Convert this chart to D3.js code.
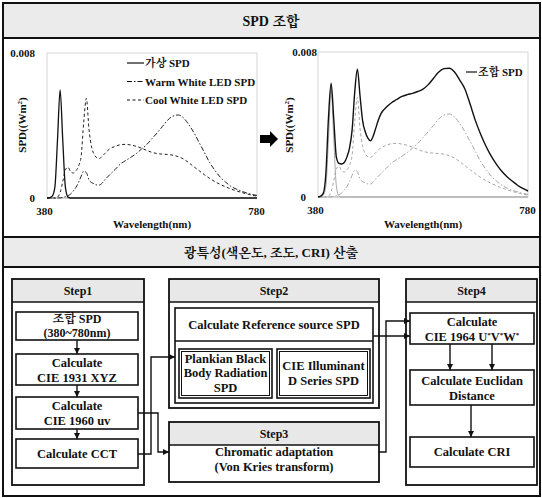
<!DOCTYPE html>
<html>
<head>
<meta charset="utf-8">
<script src="https://cdn.jsdelivr.net/npm/d3@7"></script>
<style>
  body { margin: 0; background: #fff; }
  svg text { font-weight: bold; fill: #111; }
</style>
</head>
<body>
<div id="chart"></div>
<script>
// wavelength samples (nm)
const wavelengths = [380, 385, 390, 395, 400, 405, 410, 415, 420, 425, 430, 435, 440, 445, 450, 455, 460, 465, 470, 475, 480, 485, 490, 495, 500,
    510, 520, 530, 540, 550, 560, 570, 580, 590, 600, 610, 620, 630, 640, 650, 660, 670, 680, 690, 700, 710, 720, 730, 740, 750, 760, 770, 780];

// SPD values in units of 0.001 W/m2
const virtualSpd = [0, 0.02, 0.1, 0.6, 3.2, 5.97, 3.2, 0.6, 0.05, 0, 0, 0, 0, 0, 0, 0, 0, 0, 0, 0, 0, 0, 0, 0, 0,
    0, 0, 0, 0, 0, 0, 0, 0, 0, 0, 0, 0, 0, 0, 0, 0, 0, 0, 0, 0, 0, 0, 0, 0, 0, 0, 0, 0];
const warmWhite = [0, 0, 0, 0, 0, 0.01, 0.03, 0.07, 0.13, 0.22, 0.38, 0.58, 0.85, 1.2, 1.48, 1.4, 1.0, 0.85, 0.78, 0.72, 0.72, 0.82, 1.0, 1.15, 1.3,
    1.58, 1.88, 2.07, 2.25, 2.45, 2.7, 2.95, 3.28, 3.6, 3.95, 4.3, 4.52, 4.58, 4.42, 4.05, 3.6, 3.05, 2.5, 1.95, 1.52, 1.15, 0.88, 0.65, 0.5, 0.38, 0.28, 0.2, 0.14];
const coolWhite = [0, 0, 0, 0, 0.05, 0.3, 0.9, 1.55, 1.7, 1.45, 1.38, 1.5, 1.75, 2.3, 4.2, 5.5, 3.8, 2.8, 2.4, 2.22, 2.18, 2.3, 2.45, 2.6, 2.72,
    2.85, 2.94, 2.96, 2.92, 2.85, 2.75, 2.62, 2.52, 2.45, 2.42, 2.4, 2.36, 2.28, 2.15, 1.95, 1.72, 1.5, 1.28, 1.08, 0.9, 0.75, 0.62, 0.5, 0.4, 0.31, 0.23, 0.16, 0.1];
const combinedSpd = [0, 0.05, 0.2, 1.3, 4.4, 6.28, 4.3, 2.2, 1.85, 1.82, 1.9, 2.2, 2.7, 3.7, 5.8, 7.05, 5.6, 4.2, 3.6, 3.25, 3.1, 3.35, 3.8, 4.25, 4.6,
    4.95, 5.2, 5.38, 5.55, 5.65, 5.72, 5.82, 5.95, 6.2, 6.55, 6.9, 7.08, 7.1, 6.9, 6.45, 5.95, 5.1, 4.2, 3.45, 2.8, 2.25, 1.8, 1.42, 1.12, 0.88, 0.65, 0.47, 0.33];

const xTicks = [380, 780];
const yTicks = [0, 8];
const yTickLabels = ["0", "0.008"];
const legendLeft = ["가상 SPD", "Warm White LED SPD", "Cool White LED SPD"];
const legendRight = ["조합 SPD"];

const W = 542, H = 498;
const FONT = "'Liberation Serif', 'DejaVu Serif', 'Noto Serif CJK KR', serif";
const svg = d3.select("#chart").append("svg").attr("width", W).attr("height", H)
    .style("font-family", FONT);

// defs: arrow marker
svg.append("defs").append("marker")
    .attr("id", "arr")
    .attr("viewBox", "0 -5 10 10")
    .attr("refX", 10).attr("refY", 0)
    .attr("markerWidth", 6).attr("markerHeight", 6)
    .attr("markerUnits", "userSpaceOnUse")
    .attr("orient", "auto")
    .append("path").attr("d", "M0,-5L10,0L0,5Z").attr("fill", "#111");

// frames and headers
svg.append("rect").attr("x", 3).attr("y", 3).attr("width", 537).attr("height", 493)
    .attr("fill", "#fff").attr("stroke", "#111").attr("stroke-width", 2);
svg.append("rect").attr("x", 3).attr("y", 3).attr("width", 537).attr("height", 35)
    .attr("fill", "#ebebeb").attr("stroke", "#111").attr("stroke-width", 2);
svg.append("rect").attr("x", 3).attr("y", 237).attr("width", 537).attr("height", 30)
    .attr("fill", "#ebebeb").attr("stroke", "#111").attr("stroke-width", 2);
svg.append("text").attr("x", 271).attr("y", 26).attr("text-anchor", "middle")
    .style("font-size", "14px").text("SPD 조합");
svg.append("text").attr("x", 271).attr("y", 257).attr("text-anchor", "middle")
    .style("font-size", "13px").text("광특성(색온도, 조도, CRI) 산출");

// ---------- charts ----------
function drawChart(cfg) {
    const x = d3.scaleLinear().domain([380, 780]).range([cfg.left, cfg.right]);
    const y = d3.scaleLinear().domain([0, 8]).range([cfg.bottom, cfg.top]);
    const g = svg.append("g");

    g.append("rect")
        .attr("x", cfg.left).attr("y", cfg.top)
        .attr("width", cfg.right - cfg.left).attr("height", cfg.bottom - cfg.top)
        .attr("fill", "none").attr("stroke", "#d6d6d6").attr("stroke-width", 1);
    g.append("line")
        .attr("x1", cfg.left).attr("x2", cfg.right).attr("y1", cfg.bottom).attr("y2", cfg.bottom)
        .attr("stroke", "#bdbdbd");

    const yAxis = g.append("g")
        .attr("transform", `translate(${cfg.left},0)`)
        .call(d3.axisLeft(y).tickValues(yTicks).tickSize(0).tickPadding(cfg.yPad)
            .tickFormat((d, i) => yTickLabels[i]));
    yAxis.attr("font-family", null);
    yAxis.select(".domain").remove();
    yAxis.selectAll("text")
        .style("font-size", "11px")
        .attr("dx", d => d === 0 ? cfg.zeroDx : 0);

    const xAxis = g.append("g")
        .attr("transform", `translate(0,${cfg.bottom})`)
        .call(d3.axisBottom(x).tickValues(xTicks).tickSize(0).tickPadding(9));
    xAxis.attr("font-family", null);
    xAxis.select(".domain").remove();
    xAxis.selectAll("text").style("font-size", "11px")
        .attr("dx", d => d === 380 ? -3 : -1);

    g.append("text")
        .attr("x", (cfg.left + cfg.right) / 2).attr("y", 228)
        .attr("text-anchor", "middle").style("font-size", "11px")
        .text("Wavelength(nm)");

    const yl = g.append("text")
        .attr("transform", `translate(${cfg.yLabelX},125) rotate(-90)`)
        .attr("text-anchor", "middle").style("font-size", "11px");
    yl.append("tspan").text("SPD((Wm");
    yl.append("tspan").attr("baseline-shift", "super").style("font-size", "7px").text("2");
    yl.append("tspan").text(")");

    const line = d3.line()
        .x(d => x(d[0]))
        .y(d => y(d[1]))
        .curve(d3.curveMonotoneX);

    cfg.series.forEach(s => {
        g.append("path")
            .datum(d3.zip(wavelengths, s.values))
            .attr("d", line)
            .attr("fill", "none")
            .attr("stroke", s.color)
            .attr("stroke-width", s.width)
            .attr("stroke-dasharray", s.dash);
    });

    cfg.legend.forEach((l, i) => {
        const ly = cfg.legendY + i * 18.5;
        g.append("line")
            .attr("x1", cfg.legendX).attr("x2", cfg.legendX + cfg.legendLen)
            .attr("y1", ly).attr("y2", ly)
            .attr("stroke", "#111").attr("stroke-width", 1.2)
            .attr("stroke-dasharray", l.dash);
        g.append("text")
            .attr("x", cfg.legendX + cfg.legendLen + 1).attr("y", ly + 4)
            .style("font-size", "11px").text(l.label);
    });
}

const dashWarm = "5,2,1.5,2";
const dashCool = "3,2.5";

drawChart({
    left: 47, right: 257, top: 53, bottom: 198,
    yPad: 12, zeroDx: 0, yLabelX: 26,
    legendX: 127, legendY: 63, legendLen: 17,
    series: [
        { values: warmWhite, color: "#222", width: 1, dash: dashWarm },
        { values: coolWhite, color: "#222", width: 1, dash: dashCool },
        { values: virtualSpd, color: "#111", width: 1.3, dash: null }
    ],
    legend: [
        { label: legendLeft[0], dash: null },
        { label: legendLeft[1], dash: dashWarm },
        { label: legendLeft[2], dash: dashCool }
    ]
});

drawChart({
    left: 318, right: 528, top: 52, bottom: 197,
    yPad: 1, zeroDx: -11, yLabelX: 293,
    legendX: 466, legendY: 72, legendLen: 11,
    series: [
        { values: warmWhite, color: "#a6a6a6", width: 1, dash: dashWarm },
        { values: coolWhite, color: "#a6a6a6", width: 1, dash: dashCool },
        { values: virtualSpd, color: "#a6a6a6", width: 1, dash: null },
        { values: combinedSpd, color: "#111", width: 1.4, dash: null }
    ],
    legend: [
        { label: legendRight[0], dash: null }
    ]
});

// block arrow between charts
svg.append("path")
    .attr("d", "M260,135 H270 V131 L278,139 L270,147 V143 H260 Z")
    .attr("fill", "#000");

// ---------- flow diagram ----------
function box(x, y, w, h, sw) {
    svg.append("rect").attr("x", x).attr("y", y).attr("width", w).attr("height", h)
        .attr("fill", "none").attr("stroke", "#111").attr("stroke-width", sw || 1.6);
}
function stepBox(x, y, w, h, label) {
    svg.append("rect").attr("x", x).attr("y", y).attr("width", w).attr("height", 23)
        .attr("fill", "#e8e8e8");
    svg.append("line").attr("x1", x).attr("x2", x + w).attr("y1", y + 23).attr("y2", y + 23)
        .attr("stroke", "#111").attr("stroke-width", 1.3);
    box(x, y, w, h, 1.8);
    svg.append("text").attr("x", x + w / 2).attr("y", y + 16).attr("text-anchor", "middle")
        .style("font-size", "12px").text(label);
}
function label(cx, cy, lines, size) {
    const fs = size || 12.5;
    const lh = fs * 1.15;
    const t = svg.append("text").attr("text-anchor", "middle").style("font-size", fs + "px");
    lines.forEach((ln, i) => {
        const ty = cy - (lines.length - 1) * lh / 2 + i * lh + fs * 0.35;
        const ts = t.append("tspan").attr("x", cx).attr("y", ty);
        if (Array.isArray(ln)) {
            ln.forEach(part => {
                const p = ts.append("tspan").text(part.text);
                if (part.sup) p.attr("baseline-shift", "super").style("font-size", "7px");
            });
        } else {
            ts.text(ln);
        }
    });
}
function arrow(d) {
    svg.append("path").attr("d", d).attr("fill", "none")
        .attr("stroke", "#111").attr("stroke-width", 1.4).attr("marker-end", "url(#arr)");
}

// Step1
stepBox(12, 279, 132, 206, "Step1");
box(16, 312, 122, 28);
label(77, 326, ["조합 SPD", "(380~780nm)"], 12);
box(16, 354, 122, 31);
label(77, 370, ["Calculate", "CIE 1931 XYZ"]);
box(16, 397, 122, 32);
label(77, 413, ["Calculate", "CIE 1960 uv"]);
box(16, 439, 122, 29);
label(77, 454, ["Calculate CCT"]);
arrow("M77,340 V354");
arrow("M77,385 V397");
arrow("M77,429 V439");

// Step2
stepBox(169, 279, 210, 129, "Step2");
box(175, 308, 198, 95);
svg.append("line").attr("x1", 175).attr("x2", 373).attr("y1", 341).attr("y2", 341)
    .attr("stroke", "#111").attr("stroke-width", 1.4);
label(274, 325, ["Calculate Reference source SPD"]);
box(179, 349, 93, 49, 1.6);
box(181.5, 351.5, 88, 44, 1);
label(225.5, 373, ["Plankian Black", "Body Radiation", "SPD"]);
box(277, 349, 93, 49, 1.6);
box(279.5, 351.5, 88, 44, 1);
label(323.5, 373, ["CIE Illuminant", "D Series SPD"]);

// Step3
stepBox(169, 422, 210, 60, "Step3");
label(274, 459, ["Chromatic adaptation", "(Von Kries transform)"]);

// Step4
stepBox(406, 279, 131, 206, "Step4");
box(410, 313, 124, 31);
label(472, 329, ["Calculate", [{ text: "CIE 1964 U" }, { text: "*", sup: true }, { text: "V" }, { text: "*", sup: true }, { text: "W" }, { text: "*", sup: true }]]);
box(410, 370, 124, 35);
label(472, 388, ["Calculate Euclidan", "Distance"]);
box(410, 437, 124, 30);
label(472, 452, ["Calculate CRI"]);
arrow("M450,344 V370");
arrow("M492,344 V370");
arrow("M471,405 V437");

// connectors
arrow("M138,413 H158 V452 H169");
arrow("M138,454 H151 V357 H175");
arrow("M373,336 H410");
arrow("M379,452 H386 V321 H410");
</script>
</body>
</html>
